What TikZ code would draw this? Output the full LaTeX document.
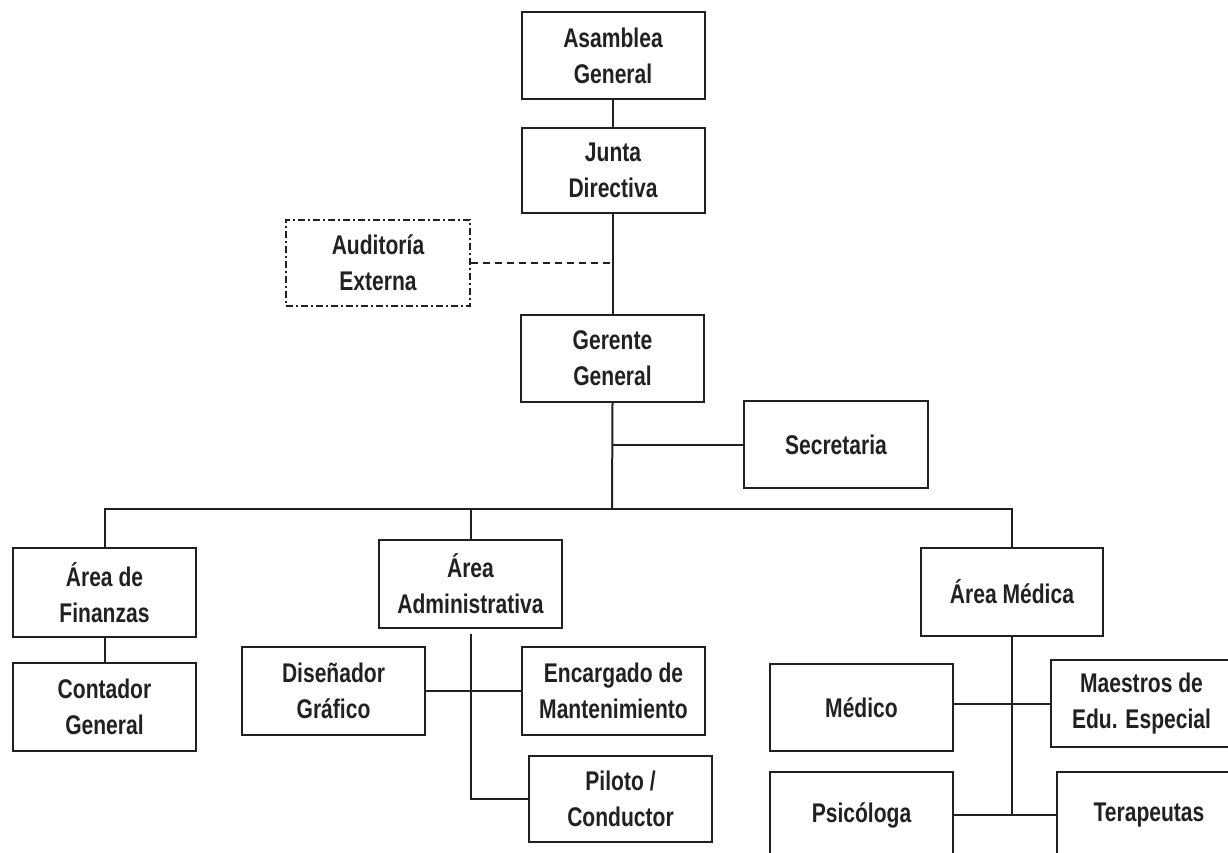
\documentclass[tikz,border=0pt]{standalone}
\usepackage{fontspec}
\setmainfont{Liberation Sans}[FakeStretch=0.78]
\usetikzlibrary{calc}
\definecolor{ink}{gray}{0.13}
\tikzset{
  unit/.style={draw=ink, line width=2pt, minimum width=183pt, minimum height=87pt,
    inner sep=0pt, align=center, text=ink,
    font=\fontsize{27}{36}\selectfont\bfseries},
  advisory/.style={unit, dash pattern=on 7pt off 3pt on 2pt off 3pt},
  link/.style={draw=ink, line width=2pt},
  softlink/.style={link, dash pattern=on 7pt off 5pt}
}
\begin{document}
\begin{tikzpicture}[x=1pt, y=-1pt]
  \useasboundingbox (0,0) rectangle (1228,853);
  \clip (0,0) rectangle (1228,853);

  % governing bodies
  \node[unit] (asam) at (613,55.5) {Asamblea\\General};
  \node[unit, minimum height=85pt] (junta) at (613,170.5) {Junta\\Directiva};
  \node[advisory, minimum width=184pt, minimum height=86pt] (aud) at (378,263) {Auditoría\\Externa};
  \node[unit] (ger) at (612.5,358.5) {Gerente\\General};
  \node[unit, minimum width=184pt] (sec) at (836,444.5) {Secretaria};

  % areas
  \node[unit, minimum height=89pt] (fin) at (104.5,592.5) {Área de\\Finanzas};
  \node[unit, minimum height=88pt] (adm) at (470.5,584) {Área\\Administrativa};
  \node[unit, minimum width=182pt, minimum height=88pt] (med) at (1012,592) {Área Médica};

  % staff
  \node[unit, minimum height=88pt] (cont) at (104.5,707) {Contador\\General};
  \node[unit, minimum height=88pt] (dis) at (333.5,691) {Diseñador\\Gráfico};
  \node[unit, minimum height=88pt] (enc) at (613.5,691) {Encargado de\\Mantenimiento};
  \node[unit, minimum height=86pt] (pil) at (620.5,799) {Piloto /\\Conductor};
  \node[unit] (medi) at (861.5,707.5) {Médico};
  \node[unit, minimum width=181pt] (mae) at (1141.5,703.5) {Maestros de\\Edu. Especial};
  \node[unit, minimum height=86pt] (psi) at (861.5,815) {Psicóloga};
  \node[unit, minimum width=184pt, minimum height=86pt] (ter) at (1149,815) {Terapeutas};

  % junction points
  \coordinate (hub) at (612,509);
  \coordinate (medrow) at (1012,704);

  % chain of command
  \draw[link] (asam.south) -- (junta.south |- asam.south) -- (junta.north);
  \draw[link] (junta.south -| ger.north) -- (ger.north);
  \draw[softlink] (aud.east) -- (aud.east -| ger.north);
  \draw[link] (ger.south) -- (hub);
  \draw[link] (sec.west) -- (sec.west -| ger.south);

  % branch to the areas
  \draw[link] (fin.north) -- (fin.north |- hub) -- (med.north |- hub) -- (med.north);
  \draw[link] (adm.north) -- (adm.north |- hub);
  \draw[link] (fin.south) -- (cont.north);

  % administrative area
  \draw[link] ([yshift=-5pt]adm.south) -- (adm.south |- pil.west) -- (pil.west);
  \draw[link] (dis.east) -- (enc.west);

  % medical area
  \draw[link] (med.south) -- (med.south |- psi.east);
  \draw[link] (medrow -| medi.east) -- (medrow -| mae.west);
  \draw[link] (psi.east) -- (ter.west);
\end{tikzpicture}
\end{document}
